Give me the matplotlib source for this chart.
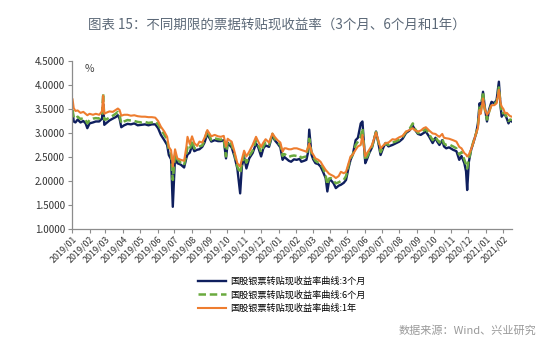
import matplotlib
matplotlib.use("Agg")
import matplotlib.pyplot as plt
import matplotlib.dates as mdates
import pandas as pd

plt.rcParams['font.family'] = ['Noto Sans CJK SC', 'DejaVu Sans']

title = "图表 15：不同期限的票据转贴现收益率（3个月、6个月和1年）"
source = "数据来源：Wind、兴业研究"
labels = ["国股银票转贴现收益率曲线:3个月",
          "国股银票转贴现收益率曲线:6个月",
          "国股银票转贴现收益率曲线:1年"]

dates = [
    "2019-01-02", "2019-01-04", "2019-01-07", "2019-01-11", "2019-01-16", "2019-01-21",
    "2019-01-25", "2019-01-28", "2019-02-01", "2019-02-07", "2019-02-12", "2019-02-18",
    "2019-02-23", "2019-02-25", "2019-02-27", "2019-03-02", "2019-03-08", "2019-03-14",
    "2019-03-19", "2019-03-23", "2019-03-26", "2019-03-29", "2019-04-03", "2019-04-09",
    "2019-04-15", "2019-04-21", "2019-04-27", "2019-05-04", "2019-05-10", "2019-05-16",
    "2019-05-22", "2019-05-28", "2019-06-02", "2019-06-07", "2019-06-13", "2019-06-18",
    "2019-06-21", "2019-06-25", "2019-06-28", "2019-07-02", "2019-07-06", "2019-07-12",
    "2019-07-18", "2019-07-22", "2019-07-24", "2019-07-28", "2019-08-01", "2019-08-05",
    "2019-08-10", "2019-08-14", "2019-08-19", "2019-08-23", "2019-08-28", "2019-09-04",
    "2019-09-10", "2019-09-16", "2019-09-21", "2019-09-26", "2019-09-30", "2019-10-03",
    "2019-10-06", "2019-10-10", "2019-10-15", "2019-10-20", "2019-10-25", "2019-10-28",
    "2019-11-01", "2019-11-05", "2019-11-10", "2019-11-16", "2019-11-22", "2019-11-26",
    "2019-12-01", "2019-12-05", "2019-12-09", "2019-12-15", "2019-12-21", "2019-12-25",
    "2019-12-30", "2020-01-04", "2020-01-08", "2020-01-11", "2020-01-14", "2020-01-19",
    "2020-01-23", "2020-01-28", "2020-02-02", "2020-02-07", "2020-02-10", "2020-02-15",
    "2020-02-19", "2020-02-22", "2020-02-24", "2020-02-28", "2020-03-02", "2020-03-06",
    "2020-03-11", "2020-03-15", "2020-03-19", "2020-03-24", "2020-03-27", "2020-03-30",
    "2020-04-02", "2020-04-07", "2020-04-11", "2020-04-16", "2020-04-20", "2020-04-25",
    "2020-04-29", "2020-05-03", "2020-05-07", "2020-05-11", "2020-05-16", "2020-05-20",
    "2020-05-25", "2020-05-28", "2020-06-02", "2020-06-05", "2020-06-09", "2020-06-14",
    "2020-06-21", "2020-06-25", "2020-06-29", "2020-07-04", "2020-07-08", "2020-07-13",
    "2020-07-20", "2020-07-25", "2020-08-01", "2020-08-07", "2020-08-13", "2020-08-19",
    "2020-08-25", "2020-08-28", "2020-09-03", "2020-09-08", "2020-09-13", "2020-09-17",
    "2020-09-23", "2020-09-29", "2020-10-04", "2020-10-07", "2020-10-11", "2020-10-16",
    "2020-10-19", "2020-10-23", "2020-10-28", "2020-11-04", "2020-11-10", "2020-11-15",
    "2020-11-19", "2020-11-24", "2020-11-27", "2020-11-29", "2020-12-02", "2020-12-06",
    "2020-12-10", "2020-12-15", "2020-12-18", "2020-12-21", "2020-12-23", "2020-12-27",
    "2020-12-30", "2021-01-03", "2021-01-07", "2021-01-11", "2021-01-16", "2021-01-20",
    "2021-01-24", "2021-01-27", "2021-01-29", "2021-02-01", "2021-02-04", "2021-02-07",
    "2021-02-10", "2021-02-13", "2021-02-16",
]

rate_3m = [
    3.45, 3.24, 3.22, 3.28, 3.22, 3.25, 3.20, 3.10, 3.20, 3.22, 3.24, 3.24,
    3.30, 3.60, 3.17, 3.20, 3.26, 3.30, 3.33, 3.37, 3.30, 3.12, 3.16, 3.19,
    3.18, 3.20, 3.16, 3.17, 3.18, 3.16, 3.18, 3.18, 3.10, 2.96, 2.85, 2.75,
    2.54, 2.45, 1.46, 2.51, 2.37, 2.34, 2.28, 2.48, 2.55, 2.59, 2.74, 2.62,
    2.65, 2.66, 2.71, 2.80, 2.98, 2.82, 2.85, 2.83, 2.83, 2.85, 2.47, 2.80,
    2.75, 2.70, 2.51, 2.26, 1.74, 2.30, 2.50, 2.26, 2.47, 2.58, 2.78, 2.70,
    2.51, 2.68, 2.74, 2.71, 2.96, 2.85, 2.78, 2.70, 2.44, 2.50, 2.47, 2.42,
    2.40, 2.45, 2.44, 2.46, 2.40, 2.42, 2.44, 2.60, 3.07, 2.55, 2.45, 2.37,
    2.35, 2.30, 2.20, 2.06, 1.78, 2.00, 2.02, 1.95, 1.85, 1.90, 1.92, 1.96,
    2.02, 2.25, 2.44, 2.55, 2.85, 2.90, 3.20, 3.24, 2.37, 2.45, 2.58, 2.70,
    3.03, 2.80, 2.54, 2.70, 2.79, 2.72, 2.75, 2.78, 2.82, 2.88, 3.00, 3.05,
    3.15, 3.08, 2.98, 2.96, 3.00, 3.03, 2.92, 2.79, 2.90, 2.82, 2.75, 2.85,
    2.72, 2.68, 2.70, 2.65, 2.62, 2.44, 2.52, 2.37, 2.20, 1.81, 2.40, 2.65,
    2.80, 3.00, 3.20, 3.62, 3.50, 3.86, 3.55, 3.24, 3.50, 3.65, 3.62, 3.69,
    4.07, 3.55, 3.34, 3.40, 3.38, 3.30, 3.20, 3.27, 3.24,
]

rate_6m = [
    3.48, 3.32, 3.30, 3.34, 3.29, 3.31, 3.27, 3.20, 3.27, 3.30, 3.31, 3.30,
    3.40, 3.83, 3.28, 3.28, 3.32, 3.36, 3.40, 3.44, 3.38, 3.20, 3.24, 3.27,
    3.26, 3.25, 3.23, 3.22, 3.23, 3.21, 3.22, 3.24, 3.18, 3.08, 2.96, 2.86,
    2.65, 2.55, 2.02, 2.55, 2.45, 2.38, 2.33, 2.55, 2.70, 2.65, 2.85, 2.68,
    2.68, 2.72, 2.74, 2.85, 3.05, 2.85, 2.89, 2.87, 2.86, 2.88, 2.51, 2.83,
    2.80, 2.75, 2.56, 2.30, 2.16, 2.35, 2.55, 2.38, 2.52, 2.63, 2.85, 2.75,
    2.60, 2.72, 2.80, 2.75, 2.98, 2.88, 2.80, 2.75, 2.52, 2.56, 2.54, 2.50,
    2.52, 2.53, 2.52, 2.53, 2.48, 2.50, 2.51, 2.70, 2.88, 2.58, 2.50, 2.42,
    2.38, 2.35, 2.28, 2.12, 1.92, 2.05, 2.06, 2.00, 1.95, 1.97, 2.00, 2.02,
    2.10, 2.30, 2.47, 2.55, 2.75, 2.82, 2.92, 3.10, 2.43, 2.50, 2.60, 2.72,
    3.02, 2.82, 2.60, 2.72, 2.79, 2.75, 2.80, 2.82, 2.86, 2.92, 3.02, 3.08,
    3.20, 3.10, 3.00, 3.00, 3.05, 3.08, 2.97, 2.85, 2.92, 2.86, 2.80, 2.88,
    2.78, 2.75, 2.76, 2.72, 2.68, 2.55, 2.60, 2.44, 2.35, 2.26, 2.45, 2.65,
    2.82, 3.00, 3.15, 3.55, 3.45, 3.86, 3.50, 3.28, 3.45, 3.60, 3.60, 3.65,
    3.95, 3.60, 3.40, 3.42, 3.40, 3.32, 3.25, 3.28, 3.27,
]

rate_1y = [
    3.70, 3.52, 3.46, 3.47, 3.42, 3.44, 3.40, 3.37, 3.40, 3.38, 3.40, 3.38,
    3.45, 3.78, 3.40, 3.42, 3.45, 3.44, 3.48, 3.51, 3.48, 3.36, 3.38, 3.38,
    3.36, 3.37, 3.35, 3.34, 3.34, 3.33, 3.33, 3.32, 3.25, 3.13, 3.03, 2.92,
    2.71, 2.64, 2.30, 2.66, 2.47, 2.44, 2.42, 2.71, 2.92, 2.77, 2.93, 2.79,
    2.73, 2.82, 2.80, 2.90, 3.06, 2.93, 2.96, 2.93, 2.92, 2.94, 2.72, 2.88,
    2.85, 2.82, 2.61, 2.37, 2.30, 2.45, 2.63, 2.51, 2.61, 2.75, 2.92, 2.82,
    2.71, 2.80, 2.87, 2.80, 2.99, 2.92, 2.85, 2.80, 2.61, 2.68, 2.68, 2.66,
    2.66, 2.68, 2.68, 2.66, 2.65, 2.63, 2.61, 2.70, 2.78, 2.61, 2.55, 2.47,
    2.44, 2.40, 2.32, 2.23, 2.19, 2.15, 2.13, 2.10, 2.06, 2.10, 2.19, 2.16,
    2.19, 2.35, 2.51, 2.55, 2.65, 2.72, 2.75, 2.96, 2.51, 2.58, 2.65, 2.75,
    3.01, 2.85, 2.68, 2.74, 2.79, 2.80, 2.87, 2.86, 2.91, 2.94, 3.03, 3.06,
    3.10, 3.06, 3.03, 3.05, 3.10, 3.12, 3.05, 2.99, 2.98, 2.95, 2.92, 2.98,
    2.90, 2.89, 2.88, 2.85, 2.82, 2.71, 2.68, 2.58, 2.55, 2.51, 2.55, 2.66,
    2.80, 3.00, 3.10, 3.48, 3.40, 3.72, 3.50, 3.38, 3.45, 3.58, 3.58, 3.62,
    3.90, 3.62, 3.55, 3.50, 3.41, 3.42, 3.38, 3.35, 3.34,
]

x = pd.to_datetime(dates)

fig = plt.figure(figsize=(5.54, 3.51), dpi=100)
ax = fig.add_axes([0.130, 0.348, 0.794, 0.478])

l1, = ax.plot(x, rate_3m, color="#0f1f5e", lw=1.7, label=labels[0])
l2, = ax.plot(x, rate_6m, color="#6aaa3f", lw=1.8, ls=(0, (3, 1.5)), label=labels[1])
l3, = ax.plot(x, rate_1y, color="#ee7d2f", lw=1.5, label=labels[2])

ax.set_ylim(1.0, 4.5)
ax.set_yticks([1.0, 1.5, 2.0, 2.5, 3.0, 3.5, 4.0, 4.5])
ax.yaxis.set_major_formatter(plt.FuncFormatter(lambda v, p: f"{v:.4f}"))
ax.set_xlim(pd.Timestamp("2019-01-01"), x[-1])
ax.xaxis.set_major_locator(mdates.MonthLocator())
ax.xaxis.set_major_formatter(mdates.DateFormatter("%Y/%m"))

for s in ["top", "right"]:
    ax.spines[s].set_visible(False)
for s in ["left", "bottom"]:
    ax.spines[s].set_color("#8c8c8c")
    ax.spines[s].set_linewidth(0.9)
ax.tick_params(axis="both", colors="#8c8c8c", length=3, width=0.8,
               labelcolor="#333333")
ax.tick_params(axis="y", labelsize=7, pad=2)
ax.tick_params(axis="x", labelsize=6.4, pad=1)
for lab in ax.get_xticklabels():
    lab.set_rotation(45)
    lab.set_ha("right")
    lab.set_rotation_mode("anchor")

ax.text(0.028, 0.985, "%", transform=ax.transAxes, fontsize=7.5,
        color="#444444", va="top", ha="left")

fig.text(0.5, 0.928, title, ha="center", va="center", fontsize=9.7,
         color="#5b6877")
fig.legend(handles=[l1, l2, l3], loc="center", bbox_to_anchor=(0.509, 0.160),
           frameon=False, fontsize=6.6, handlelength=3.0, handletextpad=0.5,
           labelspacing=0.45)
fig.text(0.969, 0.057, source, ha="right", va="center", fontsize=8,
         color="#9a9a9a")

fig.savefig("out.png", dpi=100)
